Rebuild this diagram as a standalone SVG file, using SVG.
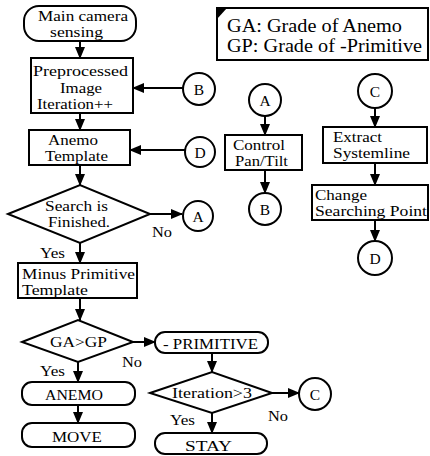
<svg xmlns="http://www.w3.org/2000/svg" width="430" height="456" viewBox="0 0 430 456">
<defs>
<marker id="ah" markerUnits="userSpaceOnUse" markerWidth="12" markerHeight="10" refX="11" refY="5" orient="auto">
<path d="M0,0 L12,5 L0,10 Z" fill="#000"/>
</marker>
<style>
.s{fill:#fff;stroke:#000;stroke-width:2}
.t{font-family:"Liberation Serif","Times New Roman",serif;font-size:15.5px;fill:#000}
.m{font-size:14px}
.c{text-anchor:middle}
.l{fill:none;stroke:#000;stroke-width:2;marker-end:url(#ah)}
</style>
</defs>
<rect width="430" height="456" fill="#fff"/>
<g id="connectors">
<line class="l" x1="80" y1="41" x2="80" y2="58"/>
<line class="l" x1="80" y1="113" x2="80" y2="130"/>
<line class="l" x1="80" y1="165" x2="80" y2="185"/>
<line class="l" x1="150" y1="214" x2="182" y2="214"/>
<line class="l" x1="80" y1="243" x2="80" y2="263"/>
<line class="l" x1="80" y1="298" x2="80" y2="320"/>
<line class="l" x1="133" y1="342" x2="155" y2="342"/>
<line class="l" x1="78" y1="362" x2="78" y2="382"/>
<line class="l" x1="78" y1="405" x2="78" y2="423"/>
<line class="l" x1="212" y1="353" x2="212" y2="372"/>
<line class="l" x1="272" y1="393" x2="299" y2="393"/>
<line class="l" x1="212" y1="413" x2="212" y2="433"/>
<line class="l" x1="183" y1="88" x2="133" y2="88"/>
<line class="l" x1="185" y1="150" x2="130" y2="150"/>
<line class="l" x1="265" y1="116" x2="265" y2="135"/>
<line class="l" x1="265" y1="170" x2="265" y2="193"/>
<line class="l" x1="375" y1="108" x2="375" y2="127"/>
<line class="l" x1="375" y1="163" x2="375" y2="185"/>
<line class="l" x1="375" y1="220" x2="375" y2="241"/>
<text class="t" x="152" y="237" textLength="20" lengthAdjust="spacingAndGlyphs">No</text>
<text class="t" x="40" y="258" textLength="25" lengthAdjust="spacingAndGlyphs">Yes</text>
<text class="t" x="122" y="367" textLength="20" lengthAdjust="spacingAndGlyphs">No</text>
<text class="t" x="40" y="376" textLength="25" lengthAdjust="spacingAndGlyphs">Yes</text>
<text class="t" x="268" y="421" textLength="20" lengthAdjust="spacingAndGlyphs">No</text>
<text class="t" x="170" y="425" textLength="25" lengthAdjust="spacingAndGlyphs">Yes</text>
</g>
<g id="legend">
<rect class="s" x="217" y="8" width="211" height="52"/>
<path d="M217,8 L227,8 L217,19 Z" fill="#000"/>
<text class="t" x="227" y="32" style="font-size:18px" textLength="175" lengthAdjust="spacingAndGlyphs">GA:  Grade of Anemo</text>
<text class="t" x="227" y="52" style="font-size:18px" textLength="195" lengthAdjust="spacingAndGlyphs">GP:  Grade of -Primitive</text>
</g>
<g id="start">
<rect class="s" x="24" y="6" width="112" height="35" rx="15"/>
<text class="t m" x="38" y="21" textLength="90" lengthAdjust="spacingAndGlyphs">Main camera</text>
<text class="t m" x="50" y="37" textLength="53" lengthAdjust="spacingAndGlyphs">sensing</text>
</g>
<g id="preprocessed">
<rect class="s" x="31" y="58" width="102" height="55"/>
<text class="t" x="33" y="76" textLength="95" lengthAdjust="spacingAndGlyphs">Preprocessed</text>
<text class="t" x="60" y="93" textLength="42" lengthAdjust="spacingAndGlyphs">Image</text>
<text class="t" x="37" y="109" textLength="76" lengthAdjust="spacingAndGlyphs">Iteration++</text>
</g>
<g id="anemo-template">
<rect class="s" x="29" y="130" width="101" height="35"/>
<text class="t m" x="48" y="145" textLength="50" lengthAdjust="spacingAndGlyphs">Anemo</text>
<text class="t m" x="45" y="161" textLength="63" lengthAdjust="spacingAndGlyphs">Template</text>
</g>
<g id="search">
<polygon class="s" points="8,214 80,185 150,214 80,243"/>
<text class="t m" x="45" y="211" textLength="63" lengthAdjust="spacingAndGlyphs">Search is</text>
<text class="t m" x="48" y="227" textLength="62" lengthAdjust="spacingAndGlyphs">Finished.</text>
</g>
<g id="circle-a1">
<circle class="s" cx="198" cy="216" r="15"/>
<text class="t c" x="198" y="222">A</text>
</g>
<g id="minus-primitive">
<rect class="s" x="18" y="263" width="119" height="35"/>
<text class="t m" x="22" y="279" textLength="113" lengthAdjust="spacingAndGlyphs">Minus Primitive</text>
<text class="t m" x="22" y="295" textLength="66" lengthAdjust="spacingAndGlyphs">Template</text>
</g>
<g id="ga-gp">
<polygon class="s" points="22,342 78,320 133,342 78,362"/>
<text class="t" x="50" y="347" textLength="57" lengthAdjust="spacingAndGlyphs">GA&gt;GP</text>
</g>
<g id="anemo">
<rect class="s" x="22" y="382" width="113" height="23" rx="10"/>
<text class="t" x="45" y="400" textLength="58" lengthAdjust="spacingAndGlyphs">ANEMO</text>
</g>
<g id="move">
<rect class="s" x="22" y="423" width="113" height="24" rx="10"/>
<text class="t" x="52" y="442" textLength="50" lengthAdjust="spacingAndGlyphs">MOVE</text>
</g>
<g id="primitive">
<rect class="s" x="155" y="332" width="113" height="21" rx="10"/>
<text class="t" x="163" y="349" textLength="95" lengthAdjust="spacingAndGlyphs">- PRIMITIVE</text>
</g>
<g id="iteration">
<polygon class="s" points="150,393 212,372 272,393 212,413"/>
<text class="t" x="172" y="398" textLength="80" lengthAdjust="spacingAndGlyphs">Iteration&gt;3</text>
</g>
<g id="circle-c1">
<circle class="s" cx="315" cy="394" r="16"/>
<text class="t c" x="315" y="400">C</text>
</g>
<g id="stay">
<rect class="s" x="155" y="433" width="112" height="21" rx="10"/>
<text class="t" x="185" y="451" textLength="47" lengthAdjust="spacingAndGlyphs">STAY</text>
</g>
<g id="circle-b1">
<circle class="s" cx="199" cy="89" r="16"/>
<text class="t c" x="199" y="95">B</text>
</g>
<g id="circle-d1">
<circle class="s" cx="200" cy="152" r="15"/>
<text class="t c" x="200" y="158">D</text>
</g>
<g id="circle-a2">
<circle class="s" cx="265" cy="100" r="16"/>
<text class="t c" x="265" y="106">A</text>
</g>
<g id="control">
<rect class="s" x="225" y="135" width="77" height="35"/>
<text class="t m" x="233" y="150" textLength="52" lengthAdjust="spacingAndGlyphs">Control</text>
<text class="t m" x="235" y="166" textLength="53" lengthAdjust="spacingAndGlyphs">Pan/Tilt</text>
</g>
<g id="circle-b2">
<circle class="s" cx="265" cy="209" r="16"/>
<text class="t c" x="265" y="215">B</text>
</g>
<g id="circle-c2">
<circle class="s" cx="375" cy="91" r="17"/>
<text class="t c" x="375" y="97">C</text>
</g>
<g id="extract">
<rect class="s" x="323" y="127" width="104" height="36"/>
<text class="t m" x="333" y="142" textLength="49" lengthAdjust="spacingAndGlyphs">Extract</text>
<text class="t m" x="333" y="158" textLength="77" lengthAdjust="spacingAndGlyphs">Systemline</text>
</g>
<g id="change">
<rect class="s" x="312" y="185" width="116" height="35"/>
<text class="t m" x="315" y="200" textLength="52" lengthAdjust="spacingAndGlyphs">Change</text>
<text class="t m" x="315" y="216" textLength="112" lengthAdjust="spacingAndGlyphs">Searching Point</text>
</g>
<g id="circle-d2">
<circle class="s" cx="375" cy="258" r="17"/>
<text class="t c" x="375" y="264">D</text>
</g>
</svg>
